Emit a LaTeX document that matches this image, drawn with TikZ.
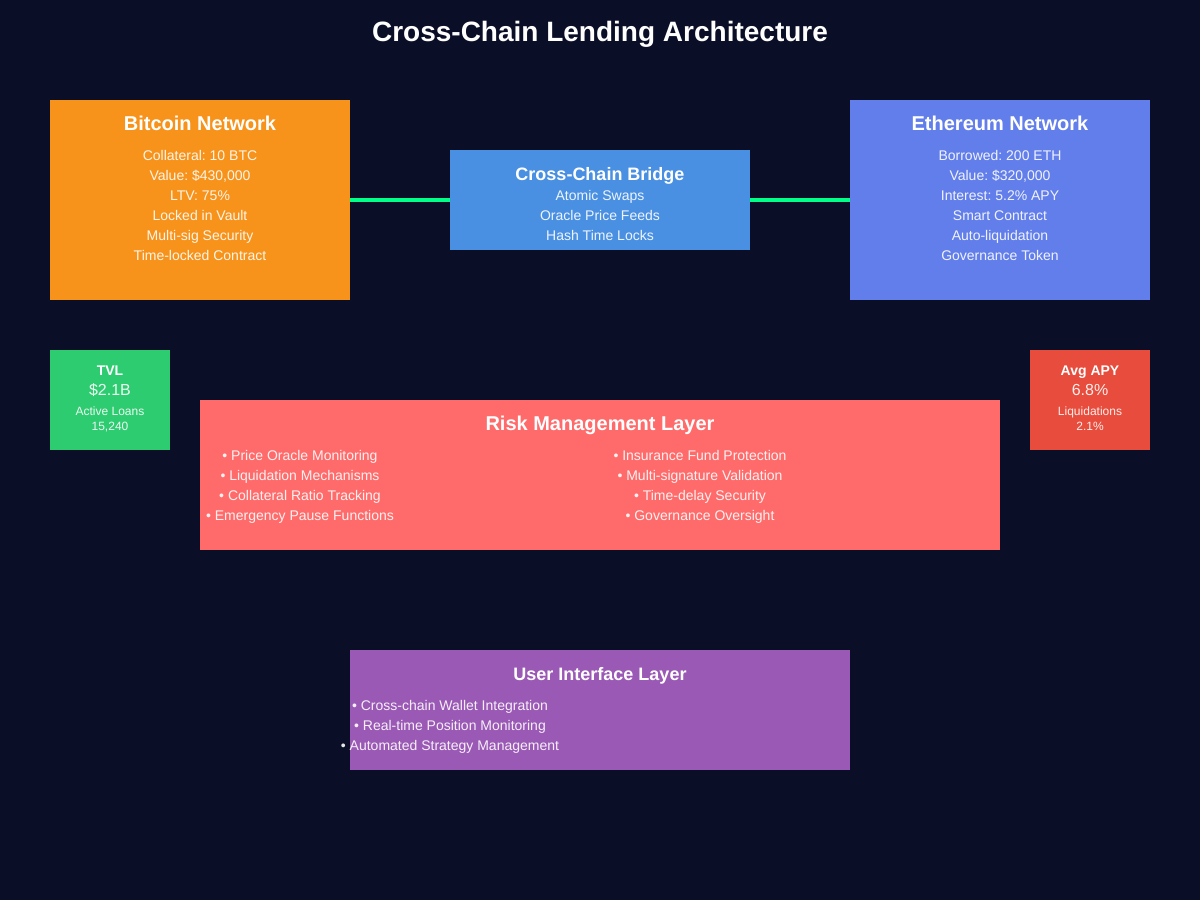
\documentclass[tikz,border=0pt]{standalone}
\usepackage{fontspec}
\setmainfont{Liberation Sans}
\frenchspacing
\definecolor{bg}{HTML}{0A0E27}
\definecolor{btc}{HTML}{F7931A}
\definecolor{bridge}{HTML}{4A90E2}
\definecolor{eth}{HTML}{627EEA}
\definecolor{tvl}{HTML}{2ECC71}
\definecolor{apy}{HTML}{E74C3C}
\definecolor{risk}{HTML}{FF6B6B}
\definecolor{ui}{HTML}{9B59B6}
\definecolor{link}{HTML}{00FF88}
\tikzset{
  panel/.style={fill=#1, draw=none, inner sep=0pt, outer sep=0pt, anchor=north west},
  head/.style={text=white, font=\bfseries\fontsize{#1}{#1}\selectfont, inner sep=0pt, anchor=base, yshift={-0.36*#1}},
  body/.style={text=white, text opacity=0.9, font=\fontsize{#1}{#1}\selectfont, inner sep=0pt, anchor=base, yshift={-0.36*#1}},
  conn/.style={draw=link, line width=3.5pt}
}
\begin{document}
\begin{tikzpicture}[x=1pt,y=-1pt]
\useasboundingbox[fill=bg] (0,0) rectangle (1200,900);
\node[head=28] (title) at (600,31) {Cross-Chain Lending Architecture};
% Bitcoin
\node[panel=btc, minimum width=300pt, minimum height=200pt] (btcbox) at (50,100) {};
\node[head=20] (btct) at (200,123) {Bitcoin Network};
\foreach \t [count=\i] in {Collateral: 10 BTC,{Value: \$430,000},LTV: 75\%,Locked in Vault,Multi-sig Security,Time-locked Contract}
  \node[body=14] (btcl\i) at (200,{135+20*\i}) {\t};
% Bridge
\node[panel=bridge, minimum width=300pt, minimum height=100pt] (brbox) at (450,150) {};
\node[head=18] (brt) at (600,174) {Cross-Chain Bridge};
\foreach \t [count=\i] in {Atomic Swaps,Oracle Price Feeds,Hash Time Locks}
  \node[body=14] (brl\i) at (600,{175+20*\i}) {\t};
% Ethereum
\node[panel=eth, minimum width=300pt, minimum height=200pt] (ethbox) at (850,100) {};
\node[head=20] (etht) at (1000,123) {Ethereum Network};
\foreach \t [count=\i] in {Borrowed: 200 ETH,{Value: \$320,000},Interest: 5.2\% APY,Smart Contract,Auto-liquidation,Governance Token}
  \node[body=14] (ethl\i) at (1000,{135+20*\i}) {\t};
% connectors
\draw[conn] (btcbox.east |- 0,200) coordinate (c1) -- (brbox.west |- 0,200) coordinate (c2);
\draw[conn] (brbox.east |- 0,200) coordinate (c3) -- (ethbox.west |- 0,200) coordinate (c4);
% TVL
\node[panel=tvl, minimum width=120pt, minimum height=100pt] (tvlbox) at (50,350) {};
\node[head=14] (tvlt) at (110,370) {TVL};
\node[body=16] (tvlv) at (110,390) {\$2.1B};
\node[body=12] (tvll) at (110,411) {Active Loans};
\node[body=12] (tvln) at (110,426) {15,240};
% APY
\node[panel=apy, minimum width=120pt, minimum height=100pt] (apybox) at (1030,350) {};
\node[head=14] (apyt) at (1090,370) {Avg APY};
\node[body=16] (apyv) at (1090,390) {6.8\%};
\node[body=12] (apyl) at (1090,411) {Liquidations};
\node[body=12] (apyn) at (1090,426) {2.1\%};
% Risk
\node[panel=risk, minimum width=800pt, minimum height=150pt] (riskbox) at (200,400) {};
\node[head=20] (riskt) at (600,423) {Risk Management Layer};
\foreach \t [count=\i] in {Price Oracle Monitoring,Liquidation Mechanisms,Collateral Ratio Tracking,Emergency Pause Functions}
  \node[body=14] (riskL\i) at (300,{435+20*\i}) {• \t};
\foreach \t [count=\i] in {Insurance Fund Protection,Multi-signature Validation,Time-delay Security,Governance Oversight}
  \node[body=14] (riskR\i) at (700,{435+20*\i}) {• \t};
% UI
\node[panel=ui, minimum width=500pt, minimum height=120pt] (uibox) at (350,650) {};
\node[head=18] (uit) at (600,674) {User Interface Layer};
\foreach \t [count=\i] in {Cross-chain Wallet Integration,Real-time Position Monitoring,Automated Strategy Management}
  \node[body=14] (uil\i) at (450,{685+20*\i}) {• \t};
\end{tikzpicture}
\end{document}
